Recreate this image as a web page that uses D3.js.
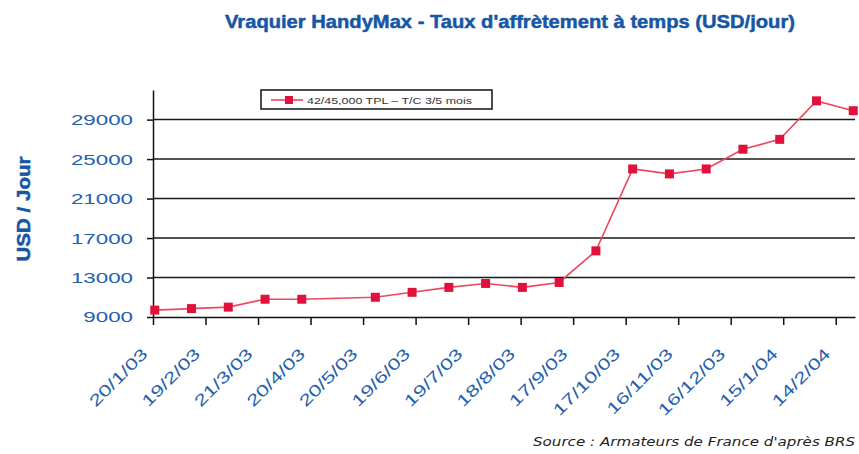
<!DOCTYPE html>
<meta charset="utf-8">
<head>
<style>
 body { margin: 0; background: #fff; }
 svg text { font-family: "Liberation Sans", Arial, sans-serif; }
</style>
</head>
<body></body>
<script src="https://d3js.org/d3.v7.min.js"></script>
<script>
 // tick labels on the date axis (every 30 days)
 const tickLabels = ["20/1/03", "19/2/03", "21/3/03", "20/4/03", "20/5/03", "19/6/03", "19/7/03",
                     "18/8/03", "17/9/03", "17/10/03", "16/11/03", "16/12/03", "15/1/04", "14/2/04"];
 // observation dates (3-weekly, one missing in May)
 const pointDates = ["21/1/03", "11/2/03", "4/3/03", "25/3/03", "15/4/03", "27/5/03", "17/6/03",
                     "8/7/03", "29/7/03", "19/8/03", "9/9/03", "30/9/03", "21/10/03", "11/11/03",
                     "2/12/03", "23/12/03", "13/1/04", "3/2/04", "24/2/04"];
 // 42/45,000 TPL - T/C 3/5 mois, USD/jour
 const rates = [9700, 9850, 10000, 10800, 10800, 11000, 11500, 12000, 12400, 12000, 12500,
                15700, 24000, 23500, 24000, 26000, 27000, 30900, 29900];
 const yTicks = [9000, 13000, 17000, 21000, 25000, 29000];

 const width = 859, height = 454;
 const plotLeft = 153, plotRight = 855, plotTop = 90, plotBottom = 317;
 const stretch = 1.4; // the source picture is stretched sideways
 const blue = "#2460ae";
 const parse = d3.utcParse("%d/%m/%y");

 const data = pointDates.map((d, i) => ({date: parse(d), value: rates[i]}));

 const svg = d3.select("body").append("svg")
               .attr("width", width)
               .attr("height", height);

 const x = d3.scaleUtc()
             .domain([parse("20/1/03"), parse("25/2/04")])
             .range([plotLeft, plotRight]);
 const y = d3.scaleLinear()
             .domain([9000, 32000])
             .range([plotBottom, plotTop]);

 function widen(sel, k) {
     sel.each(function() {
         const w = this.getComputedTextLength();
         d3.select(this).attr("textLength", w * k).attr("lengthAdjust", "spacingAndGlyphs");
     });
 }

 // horizontal gridlines
 svg.append("g")
    .selectAll("line")
    .data(yTicks.filter(d => d > 9000))
    .join("line")
    .attr("x1", plotLeft).attr("x2", plotRight)
    .attr("y1", d => y(d)).attr("y2", d => y(d))
    .attr("stroke", "#1a1a1a")
    .attr("stroke-width", 1.5);

 // y axis
 const yAxis = svg.append("g")
                  .attr("transform", `translate(${plotLeft},0)`)
                  .call(d3.axisLeft(y).tickValues(yTicks).tickSize(6).tickSizeOuter(0).tickPadding(14).tickFormat(d3.format("d")));
 yAxis.selectAll("path, line").attr("stroke", "#111").attr("stroke-width", 1.5);
 yAxis.selectAll("text")
      .attr("font-size", 15.5)
      .attr("fill", blue)
      .style("font-family", "Liberation Sans, Arial, sans-serif")
      .call(widen, 1.44);

 // x axis
 const xAxis = svg.append("g")
                  .attr("transform", `translate(0,${plotBottom})`)
                  .call(d3.axisBottom(x).tickValues(tickLabels.map(parse)).tickSize(8).tickSizeOuter(0)
                          .tickFormat(d3.utcFormat("%-d/%-m/%y")));
 xAxis.selectAll("path, line").attr("stroke", "#111").attr("stroke-width", 1.5);
 xAxis.selectAll("text")
      .attr("font-size", 16)
      .attr("fill", blue)
      .attr("x", 0).attr("y", 0).attr("dy", 0)
      .attr("text-anchor", "end")
      .attr("transform", "translate(-5,38) rotate(-45)")
      .style("font-family", "Liberation Sans, Arial, sans-serif")
      .call(widen, stretch);

 // series line + square markers
 const line = d3.line().x(d => x(d.date)).y(d => y(d.value));
 svg.append("path")
    .datum(data)
    .attr("d", line)
    .attr("fill", "none")
    .attr("stroke", "#ec4760")
    .attr("stroke-width", 1.6);
 svg.append("g")
    .selectAll("rect")
    .data(data)
    .join("rect")
    .attr("x", d => x(d.date) - 4.5)
    .attr("y", d => y(d.value) - 4.5)
    .attr("width", 9)
    .attr("height", 9)
    .attr("fill", "#e0123c");

 // legend
 const lg = svg.append("g").attr("transform", "translate(261,90)");
 lg.append("rect")
   .attr("width", 231).attr("height", 19)
   .attr("fill", "#fff").attr("stroke", "#111").attr("stroke-width", 1.5);
 lg.append("line")
   .attr("x1", 10).attr("x2", 42).attr("y1", 10).attr("y2", 10)
   .attr("stroke", "#ec4760").attr("stroke-width", 1.6);
 lg.append("rect")
   .attr("x", 24).attr("y", 6).attr("width", 8).attr("height", 8)
   .attr("fill", "#e0123c");
 lg.append("text")
   .attr("x", 46).attr("y", 13.5)
   .attr("font-size", 9)
   .attr("fill", "#333")
   .attr("textLength", 165).attr("lengthAdjust", "spacingAndGlyphs")
   .text("42/45,000 TPL – T/C 3/5 mois");

 // title
 svg.append("text")
    .attr("x", 510).attr("y", 28)
    .attr("text-anchor", "middle")
    .attr("font-size", 19)
    .attr("font-weight", "bold")
    .attr("fill", "#1656a4")
    .attr("stroke", "#1656a4")
    .attr("stroke-width", 0.5)
    .style("font-family", "Liberation Sans Narrow, Liberation Sans, Arial, sans-serif")
    .attr("textLength", 570).attr("lengthAdjust", "spacingAndGlyphs")
    .text("Vraquier HandyMax - Taux d'affrètement à temps  (USD/jour)");

 // y title
 svg.append("text")
    .attr("transform", "translate(30,209) rotate(-90)")
    .attr("text-anchor", "middle")
    .attr("font-size", 18)
    .attr("font-weight", "bold")
    .attr("fill", "#1656a4")
    .attr("stroke", "#1656a4")
    .attr("stroke-width", 0.5)
    .style("font-family", "Liberation Sans Narrow, Liberation Sans, Arial, sans-serif")
    .attr("textLength", 105).attr("lengthAdjust", "spacingAndGlyphs")
    .text("USD / Jour");

 // source
 svg.append("text")
    .attr("x", 855).attr("y", 446)
    .attr("text-anchor", "end")
    .attr("font-size", 12.5)
    .attr("font-style", "italic")
    .attr("fill", "#222")
    .style("font-family", "DejaVu Sans, sans-serif")
    .attr("textLength", 322).attr("lengthAdjust", "spacingAndGlyphs")
    .text("Source : Armateurs de France d'après BRS");
</script>
